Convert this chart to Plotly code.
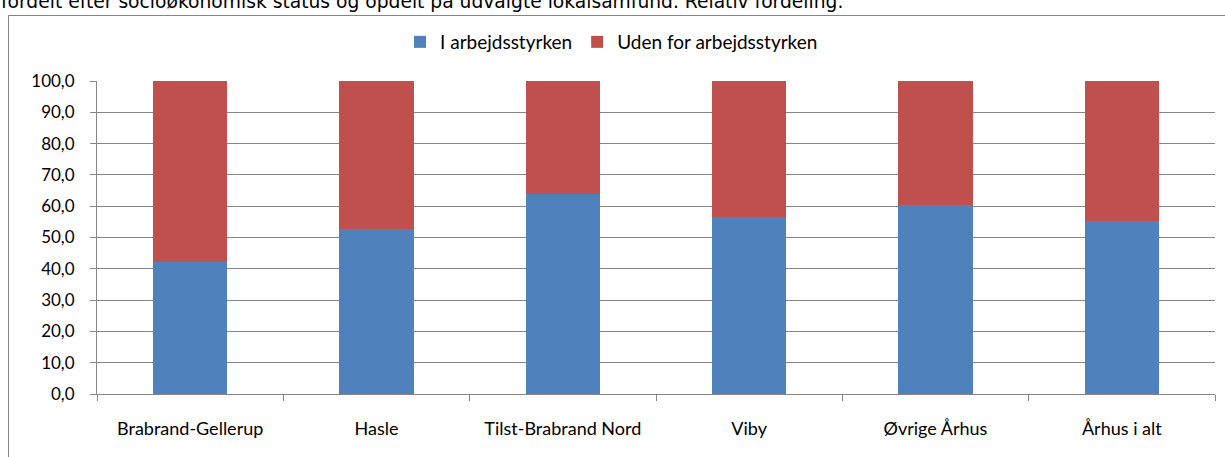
import plotly.graph_objects as go

categories = ["Brabrand-Gellerup", "Hasle", "Tilst-Brabrand Nord", "Viby", "Øvrige Århus", "Århus i alt"]
i_arbejdsstyrken = [42.1, 52.7, 63.9, 56.5, 60.5, 55.4]
uden_for = [round(100 - v, 1) for v in i_arbejdsstyrken]
series_names = ["I arbejdsstyrken", "Uden for arbejdsstyrken"]
y_ticks = [0, 10, 20, 30, 40, 50, 60, 70, 80, 90, 100]
title_text = "fordelt efter socioøkonomisk status og opdelt på udvalgte lokalsamfund. Relativ fordeling."

W, H = 1225, 457
L, R, T, B = 97, W - 1215, 81, H - 394
pw, ph = W - L - R, H - T - B

def px_x(p):
    return (p - L) / pw

def px_y(p):
    return (H - B - p) / ph

font_main = "Lato, Carlito, Calibri, sans-serif"

fig = go.Figure()
fig.add_trace(go.Bar(x=categories, y=i_arbejdsstyrken, name=series_names[0],
                     marker=dict(color="#4F81BD", line=dict(width=0))))
fig.add_trace(go.Bar(x=categories, y=uden_for, name=series_names[1],
                     marker=dict(color="#C0504D", line=dict(width=0))))

fig.update_layout(
    width=W, height=H,
    barmode="stack", bargap=0.6,
    separators=",.",
    plot_bgcolor="white", paper_bgcolor="white",
    margin=dict(l=L, r=R, t=T, b=B, autoexpand=False),
    font=dict(family=font_main, size=17, color="#000000"),
    legend=dict(orientation="h", x=px_x(400), xanchor="left", y=px_y(42), yanchor="middle",
                font=dict(size=19), itemwidth=30, traceorder="normal", bgcolor="rgba(0,0,0,0)"),
    xaxis=dict(showline=True, linecolor="#868686", linewidth=1, ticks="outside", ticklen=6,
               tickcolor="#868686", tickson="boundaries", ticklabelstandoff=18,
               tickfont=dict(size=18), showgrid=False, fixedrange=True),
    yaxis=dict(range=[0, 100], tickvals=y_ticks, tickformat=".1f", showline=True,
               linecolor="#868686", linewidth=1, ticks="outside", ticklen=6, tickcolor="#868686",
               showgrid=True, gridcolor="#868686", gridwidth=1, ticklabelstandoff=12,
               tickfont=dict(size=17), zeroline=False, fixedrange=True),
    shapes=[dict(type="rect", xref="paper", yref="paper",
                 x0=px_x(8.5), x1=px_x(1240), y0=px_y(470), y1=px_y(15.5),
                 line=dict(color="#868686", width=1), fillcolor="rgba(0,0,0,0)", layer="below")],
    annotations=[dict(text=title_text, xref="paper", yref="paper", x=px_x(-1), y=px_y(14),
                      xanchor="left", yanchor="bottom", showarrow=False,
                      font=dict(family="DejaVu Sans", size=18.7, color="#000000"))],
)

fig.write_html("out.html", config={"displayModeBar": False},
               post_script="document.body.style.margin='0';")
